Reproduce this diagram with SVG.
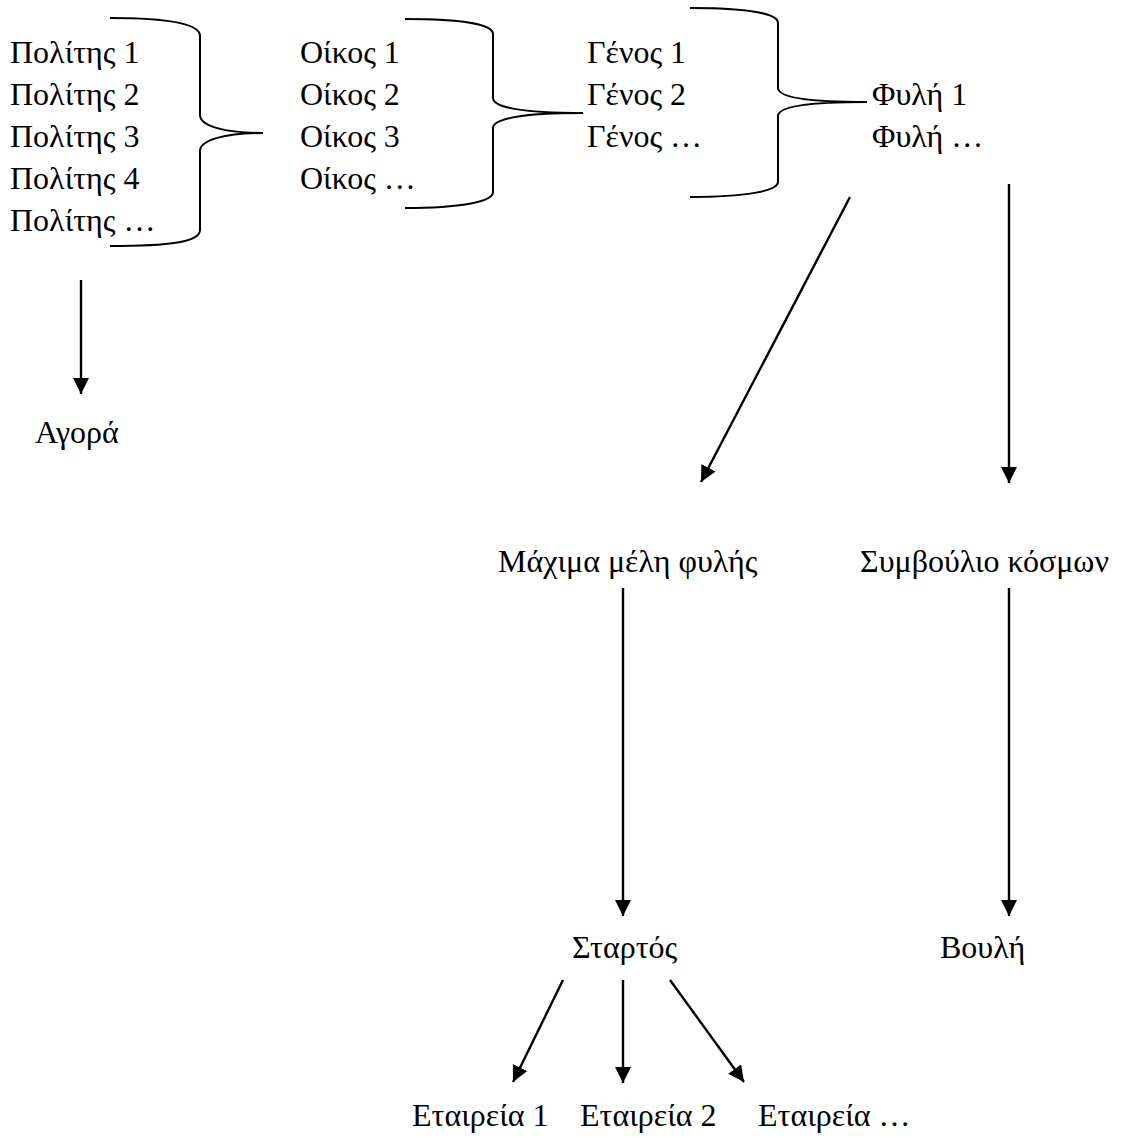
<svg xmlns="http://www.w3.org/2000/svg" width="1123" height="1138" viewBox="0 0 1123 1138">
<defs>
<marker id="ah" markerUnits="userSpaceOnUse" markerWidth="18" markerHeight="18" refX="16" refY="8" orient="auto">
<path d="M0,0 L16,8 L0,16 z" fill="#000"/>
</marker>
<style>
text{font-family:"Liberation Serif","DejaVu Serif",serif;font-size:32px;fill:#000}
.br{fill:none;stroke:#000;stroke-width:2}
.ar{fill:none;stroke:#000;stroke-width:2.4;marker-end:url(#ah)}
</style>
</defs>
<rect width="1123" height="1138" fill="#fff"/>
<g id="citizens">
<text x="10" y="63">Πολίτης 1</text>
<text x="10" y="105">Πολίτης 2</text>
<text x="10" y="147">Πολίτης 3</text>
<text x="10" y="189">Πολίτης 4</text>
<text x="10" y="231">Πολίτης …</text>
</g>
<g id="oikoi">
<text x="300" y="63">Oίκος 1</text>
<text x="300" y="105">Oίκος 2</text>
<text x="300" y="147">Oίκος 3</text>
<text x="300" y="189">Oίκος …</text>
</g>
<g id="gene">
<text x="587" y="63">Γένος 1</text>
<text x="587" y="105">Γένος 2</text>
<text x="587" y="147">Γένος …</text>
</g>
<g id="fyles">
<text x="872" y="105">Φυλή 1</text>
<text x="872" y="147">Φυλή …</text>
</g>
<g id="agora"><text x="35" y="443">Αγορά</text></g>
<g id="machima"><text x="498" y="572">Μάχιμα μέλη φυλής</text></g>
<g id="symvoulio"><text x="860" y="572">Συμβούλιο κόσμων</text></g>
<g id="startos"><text x="572" y="958">Σταρτός</text></g>
<g id="vouli"><text x="940" y="958">Βουλή</text></g>
<g id="etaireies">
<text x="412" y="1126">Εταιρεία 1</text>
<text x="580" y="1126">Εταιρεία 2</text>
<text x="758" y="1126">Εταιρεία …</text>
</g>
<g id="connectors">
<path class="br" d="M110,18 C170,18 200,24 200,36 L200,115 C200,126 225,133 263,133 C225,133 200,140 200,151 L200,230 C200,242 170,246 110,246"/>
<path class="br" d="M405,19 C460,19 493,24 493,34 L493,98 C493,107 520,113 583,113 C520,113 493,119 493,128 L493,192 C493,202 460,208 405,208"/>
<path class="br" d="M690,8 C745,8 778,13 778,23 L778,88 C778,97 805,102 867,102 C805,102 778,107 778,116 L778,182 C778,191 745,197 690,197"/>
<line class="ar" x1="81" y1="280" x2="81" y2="394"/>
<line class="ar" x1="850" y1="197" x2="701" y2="482"/>
<line class="ar" x1="1009" y1="184" x2="1009" y2="483"/>
<line class="ar" x1="623" y1="588" x2="623" y2="916"/>
<line class="ar" x1="1009" y1="588" x2="1009" y2="916"/>
<line class="ar" x1="563" y1="980" x2="513" y2="1082"/>
<line class="ar" x1="623" y1="980" x2="623" y2="1083"/>
<line class="ar" x1="670" y1="980" x2="744" y2="1082"/>
</g>
</svg>
